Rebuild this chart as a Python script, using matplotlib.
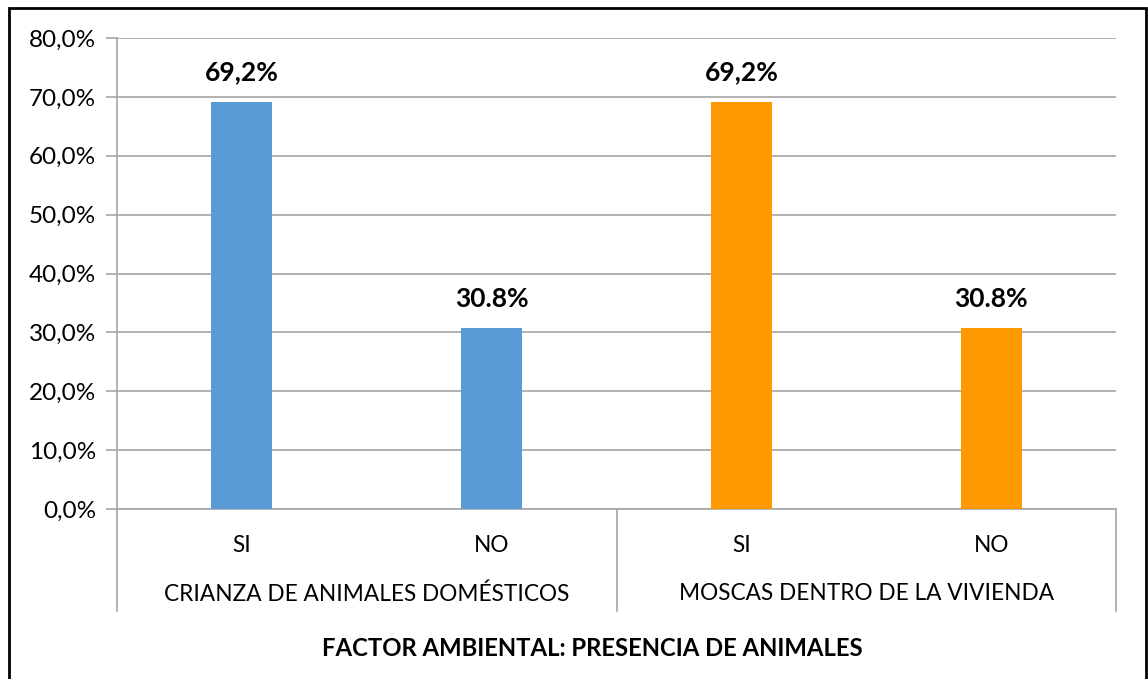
import matplotlib
matplotlib.use("Agg")
import matplotlib.pyplot as plt
from matplotlib.patches import Rectangle
from matplotlib.lines import Line2D

plt.rcParams['font.family'] = ['Lato', 'DejaVu Sans']

categories = ["SI", "NO", "SI", "NO"]
groups = ["CRIANZA DE ANIMALES DOMÉSTICOS", "MOSCAS DENTRO DE LA VIVIENDA"]
values = [69.2, 30.8, 69.2, 30.8]
value_labels = ["69,2%", "30.8%", "69,2%", "30.8%"]
colors = ["#5B9BD5", "#5B9BD5", "#FF9900", "#FF9900"]
yticks = [0, 10, 20, 30, 40, 50, 60, 70, 80]
ytick_labels = ["0,0%", "10,0%", "20,0%", "30,0%", "40,0%", "50,0%", "60,0%", "70,0%", "80,0%"]
title = "FACTOR AMBIENTAL: PRESENCIA DE ANIMALES"

W, H = 1148, 679
fig = plt.figure(figsize=(W / 100, H / 100), dpi=100)
ax = fig.add_axes([117 / W, 1 - 509 / H, (1116 - 117) / W, (509 - 38) / H])

x = list(range(len(values)))
ax.bar(x, values, width=0.245, color=colors, zorder=3)
ax.set_xlim(-0.5, len(values) - 0.5)
ax.set_ylim(0, 80)
ax.set_yticks(yticks)
ax.set_yticklabels(ytick_labels, fontsize=17.5)
ax.set_xticks([])
grid_c = "#A6A6A6"
ax.yaxis.grid(True, color=grid_c, linewidth=1.2, zorder=0)
ax.tick_params(axis='y', length=8, color=grid_c, width=1.2, pad=7)
for s in ['top', 'right']:
    ax.spines[s].set_visible(False)
ax.spines['left'].set_color(grid_c)
ax.spines['left'].set_linewidth(1.2)
ax.spines['bottom'].set_color(grid_c)
ax.spines['bottom'].set_linewidth(1.2)

for xi, v, lab in zip(x, values, value_labels):
    ax.annotate(lab, (xi, v), xytext=(0, 29), textcoords='offset pixels',
                ha='center', va='center', fontsize=19, fontweight='bold')

axh = 509 - 38
cat_y = -(545 - 509) / axh
grp_y = -(594 - 509) / axh
sep_y = -(611 - 509) / axh
for xi, c in zip(x, categories):
    ax.text(xi, cat_y, c, transform=ax.get_xaxis_transform(), ha='center', va='center', fontsize=16.3)
for gi, g in enumerate(groups):
    ax.text(0.25 + 0.5 * gi, grp_y, g, transform=ax.transAxes, ha='center', va='center', fontsize=16.3)
for sx in [0, 0.5, 1.0]:
    ax.add_line(Line2D([sx, sx], [0, sep_y], transform=ax.transAxes, color=grid_c,
                       linewidth=1.2, clip_on=False))

fig.text(592 / W, 1 - 648 / H, title, ha='center', va='center', fontsize=17.2, fontweight='bold')

fig.patches.append(Rectangle((9 / W, -0.02), (1146 - 9) / W, 1.02 - 8 / H, transform=fig.transFigure,
                             fill=False, edgecolor='black', linewidth=2.0))

fig.savefig("out.png", dpi=100)
